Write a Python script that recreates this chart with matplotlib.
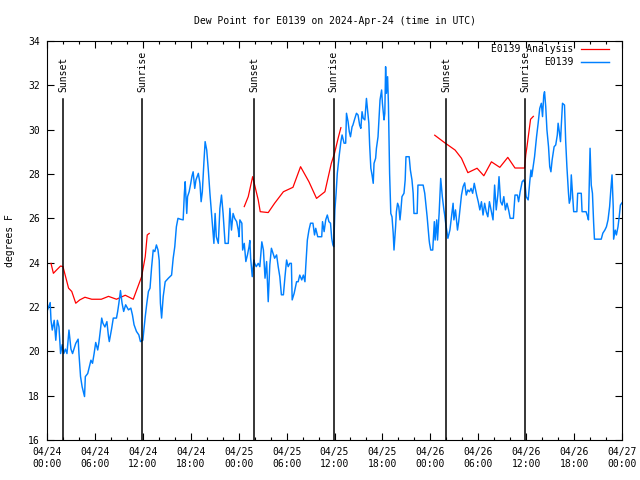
import numpy as np
import matplotlib
matplotlib.use("Agg")
import matplotlib.pyplot as plt

plt.rcParams["font.family"] = ["DejaVu Sans Mono"]

# hours since 2024-04-24 00:00 UTC
obs_t = [0.0, 0.4, 0.5, 0.66, 0.9, 1.1, 1.3, 1.5, 1.7, 1.9, 2.1, 2.3, 2.5, 2.75, 3.0, 3.2,
         3.6, 3.9, 4.0, 4.2, 4.4, 4.7, 4.8, 5.1, 5.3, 5.5, 5.7, 5.9, 6.1, 6.35, 6.5, 6.7,
         6.85, 7.0, 7.25, 7.5, 7.7, 7.8, 8.1, 8.3, 8.7, 8.85, 9.0, 9.2, 9.4, 9.6, 9.85,
         10.2, 10.5, 10.7, 10.9, 11.2, 11.5, 11.7, 12.0,
         12.3, 12.5, 12.7, 12.9, 13.1, 13.3, 13.5, 13.7, 13.9, 14.05, 14.2, 14.35, 14.55,
         14.8, 15.2, 15.6, 15.8, 16.0, 16.2, 16.4, 16.7, 17.05, 17.2, 17.3, 17.5, 17.6,
         17.8, 18.0, 18.15, 18.3, 18.5, 18.65, 18.95, 19.15, 19.3, 19.45, 19.65, 19.8,
         20.0, 20.2, 20.4, 20.6, 20.8, 20.9, 21.05, 21.2, 21.45, 21.65, 21.85, 22.05,
         22.3, 22.7, 22.9, 23.1, 23.3, 23.5, 23.75, 23.95, 24.05,
         24.15, 24.4, 24.5, 24.7, 24.9, 25.1, 25.3, 25.4, 25.5, 25.7, 25.9, 26.0, 26.2,
         26.45, 26.65, 26.9, 27.1, 27.3, 27.5, 27.7, 27.9, 28.1, 28.3, 28.5, 28.75, 28.95,
         29.15, 29.35, 29.6, 29.8, 30.0, 30.2, 30.4, 30.6, 30.7, 30.95, 31.25, 31.45,
         31.65, 31.9, 32.1, 32.3, 32.4, 32.6, 32.8, 33.0, 33.3, 33.5, 33.65, 33.9, 34.1,
         34.4, 34.5, 34.7, 34.9, 35.1, 35.3, 35.5, 35.65, 35.8,
         35.9, 36.05, 36.2, 36.35, 36.6, 36.8, 36.95, 37.2, 37.4, 37.5, 37.7, 37.85, 38.0,
         38.2, 38.3, 38.55, 38.75, 38.95, 39.15, 39.3, 39.45, 39.6, 39.8, 40.0, 40.1,
         40.3, 40.4, 40.55, 40.7, 40.85, 40.95, 41.15, 41.25, 41.45, 41.7, 41.9, 42.0,
         42.2, 42.3, 42.4, 42.5, 42.65, 42.75, 42.9, 43.05, 43.2, 43.35, 43.45, 43.65,
         43.75, 43.9, 44.05, 44.2, 44.3, 44.45, 44.7, 44.85, 44.95, 45.35, 45.5, 45.7,
         45.85, 45.95, 46.35, 46.45, 47.1, 47.3, 47.6, 47.85,
         47.9, 48.05, 48.3, 48.5, 48.6, 48.8, 48.9, 49.1, 49.3, 49.5, 49.7, 49.8, 49.95,
         50.05, 50.2, 50.45, 50.65, 50.85, 50.95, 51.15, 51.4, 51.55, 51.7, 51.9, 52.1,
         52.3, 52.5, 52.7, 52.9, 53.1, 53.3, 53.5, 53.8, 54.0, 54.2, 54.4, 54.6, 54.8,
         55.0, 55.2, 55.4, 55.65, 55.85, 56.05, 56.25, 56.45, 56.6, 56.8, 57.0, 57.2,
         57.4, 57.6, 57.8, 58.0, 58.4, 58.6, 58.9, 59.05, 59.25,
         59.5, 59.7, 59.85, 60.0, 60.25, 60.45, 60.6, 60.7, 60.85, 61.05, 61.3, 61.5,
         61.7, 61.9, 62.05, 62.2, 62.3, 62.45, 62.6, 62.8, 62.95, 63.1, 63.25, 63.5,
         63.7, 63.9, 64.0, 64.15, 64.3, 64.4, 64.55, 64.8, 64.95, 65.1, 65.3, 65.4,
         65.55, 65.65, 65.85, 65.95, 66.35, 66.45, 66.9, 67.0, 67.5, 67.7, 67.8, 68.0,
         68.15, 68.3, 68.45, 68.55, 69.4, 69.6, 69.85, 70.05, 70.25, 70.45, 70.6, 70.75,
         70.9, 70.95, 71.15, 71.3, 71.5, 71.65, 71.8, 72.0]
obs_v = [21.8, 22.2, 21.4, 20.96, 21.4, 20.5, 21.4, 21.1, 19.9, 20.3, 19.9, 20.1, 19.9, 20.96, 20.1, 19.9,
         20.36, 20.55, 19.9, 18.86, 18.4, 17.96, 18.86, 19.0, 19.3, 19.6, 19.46, 19.9, 20.4, 20.06, 20.4, 21.0,
         21.5, 21.27, 21.1, 21.34, 20.67, 20.44, 21.04, 21.5, 21.5, 21.8, 22.17, 22.74, 22.17, 21.8, 22.1,
         21.87, 21.95, 21.64, 21.2, 20.9, 20.74, 20.44, 20.5,
         21.56, 22.17, 22.7, 22.85, 23.8, 24.57, 24.5, 24.8, 24.57, 24.1, 22.17, 21.5, 22.47,
         23.14, 23.3, 23.44, 24.2, 24.72, 25.62, 26.0, 25.96, 25.93, 27.13, 27.65, 26.22, 26.98,
         27.2, 27.58, 27.9, 28.1, 27.35, 27.73, 28.03, 27.58, 26.75, 27.2, 28.55, 29.46,
         29.08, 28.18, 27.13, 26.22, 25.33, 24.87, 26.22, 25.17, 24.87, 26.45, 27.05, 26.22,
         24.87, 24.87, 26.45, 25.47, 26.22, 26.0, 25.85, 25.47, 25.17,
         25.93, 25.78, 24.57, 24.87, 24.05, 24.35, 24.72, 25.0, 24.2, 23.37, 24.12, 23.97, 23.82,
         23.97, 23.82, 24.94, 24.57, 23.3, 24.05, 22.24, 23.9, 24.65, 24.42, 24.2, 24.35, 23.82,
         23.37, 22.55, 22.55, 23.37, 24.12, 23.82, 23.97, 23.97, 22.32, 22.62, 23.14, 23.14,
         23.44, 23.22, 23.44, 23.14, 23.82, 25.02, 25.47, 25.78, 25.78, 25.25, 25.55, 25.17, 25.17,
         25.17, 25.85, 25.4, 25.93, 26.15, 25.85, 25.78, 25.1, 24.8,
         24.72, 26.38, 27.13, 28.03, 28.86, 29.46, 29.76, 29.39, 29.39, 30.74, 30.36, 29.91, 29.68,
         30.13, 30.2, 30.51, 30.74, 30.66, 30.2, 30.06, 30.81, 30.51, 30.44, 31.41, 31.04,
         30.29, 29.31, 28.26, 27.96, 27.58, 28.48, 28.71, 29.16, 29.68, 31.34, 31.79, 31.19,
         30.44, 30.74, 32.84, 31.64, 32.39, 31.19, 28.03, 26.22, 26.07, 25.33, 24.57, 25.62,
         26.3, 26.68, 26.53, 25.93, 26.3, 26.98, 27.13, 27.73, 28.78, 28.78, 28.18, 27.73,
         27.13, 26.22, 26.22, 27.5, 27.5, 27.13, 26.07, 25.02,
         24.87, 24.57, 24.57, 25.85, 25.02, 25.93, 25.02, 26.22, 27.8, 26.98, 26.38, 26.15, 25.7,
         25.47, 25.1, 25.47, 26.07, 26.68, 25.93, 26.38, 25.47, 25.85, 26.38, 27.05, 27.43,
         27.6, 27.05, 27.28, 27.2, 27.35, 27.13, 27.58, 27.05, 26.75, 26.38, 26.75, 26.15, 26.68,
         26.3, 26.07, 26.75, 26.3, 25.93, 27.5, 26.38, 27.05, 27.88, 26.75, 26.6, 26.98,
         26.38, 26.68, 26.38, 26.0, 26.0, 27.05, 27.05, 26.75, 27.2,
         27.65, 27.73, 27.58, 26.98, 26.83, 27.65, 28.18, 27.88, 28.26, 28.78, 29.68, 30.29,
         30.96, 31.19, 30.59, 31.56, 31.71, 31.04, 29.99, 29.23, 28.33, 28.1, 28.63, 29.23,
         29.31, 29.76, 30.29, 29.91, 29.46, 30.2, 31.19, 31.11, 29.46, 28.33, 27.13, 26.68,
         26.9, 27.96, 26.9, 26.3, 26.3, 27.13, 27.13, 26.3, 26.3, 26.07, 25.93, 29.16,
         27.5, 27.13, 25.78, 25.06, 25.06, 25.33, 25.47, 25.62, 25.93, 26.53, 27.28, 27.96,
         26.53, 25.06, 25.47, 25.25, 25.62, 26.07, 26.6, 26.7]

# analysis, nan breaks the line between days
ana_t = [0.5, 0.8, 1.2, 1.7, 2.0, 2.7, 3.1, 3.6, 4.1, 4.75, 5.6, 6.8, 7.7, 8.7, 9.8, 10.8,
         11.85, 12.3, 12.55, 12.8, np.nan,
         24.7, 25.2, 25.75, 26.45, 26.7, 27.7, 28.5, 29.6, 30.8, 31.75, 32.8, 33.75, 34.8,
         35.6, 36.0, 36.5, 36.8, np.nan,
         48.55, 49.8, 51.1, 51.9, 52.7, 53.85, 54.7, 55.65, 56.7, 57.7, 58.6, 59.8, 59.95,
         60.1, 60.55, 60.9]
ana_v = [23.97, 23.52, 23.67, 23.85, 23.82, 22.85, 22.7, 22.17, 22.32, 22.44, 22.35, 22.35,
         22.48, 22.35, 22.53, 22.35, 23.37, 24.27, 25.25, 25.32, np.nan,
         26.53, 26.98, 27.88, 26.83, 26.3, 26.26, 26.68, 27.2, 27.4, 28.33, 27.65, 26.9, 27.2,
         28.48, 28.93, 29.68, 30.09, np.nan,
         29.75, 29.41, 29.08, 28.71, 28.06, 28.26, 27.92, 28.55, 28.3, 28.75, 28.27, 28.27,
         28.86, 29.23, 30.47, 30.6]

sun_t = [2.0, 11.9, 25.95, 35.9, 49.95, 59.9]
sun_lbl = ["Sunset", "Sunrise", "Sunset", "Sunrise", "Sunset", "Sunrise"]

xtick_pos = [0, 6, 12, 18, 24, 30, 36, 42, 48, 54, 60, 66, 72]
xtick_lbl = ["04/24\n00:00", "04/24\n06:00", "04/24\n12:00", "04/24\n18:00",
             "04/25\n00:00", "04/25\n06:00", "04/25\n12:00", "04/25\n18:00",
             "04/26\n00:00", "04/26\n06:00", "04/26\n12:00", "04/26\n18:00",
             "04/27\n00:00"]

fig = plt.figure(figsize=(6.4, 4.8), dpi=100)
ax = fig.add_axes([47 / 640, 40 / 480, 575 / 640, 399 / 480])

ax.plot(ana_t, ana_v, color="#ff0000", lw=0.9, label="E0139 Analysis")
ax.plot(obs_t, obs_v, color="#0080ff", lw=1.05, label="E0139")

for t, lbl in zip(sun_t, sun_lbl):
    ax.plot([t, t], [16, 31.4], color="black", lw=1.1)
    ax.text(t, 31.7, lbl, rotation=90, ha="center", va="bottom", fontsize=7)

ax.set_xlim(0, 72)
ax.set_ylim(16, 34)
ax.set_xticks(xtick_pos)
ax.set_xticklabels(xtick_lbl)
ax.set_xticks(np.arange(0, 73, 2), minor=True)
ax.set_yticks(np.arange(16, 35, 2))
ax.tick_params(which="both", direction="in", top=True, right=True, labelsize=7, width=0.8)
ax.tick_params(which="major", length=5, pad=5)
ax.tick_params(which="minor", length=2.5)
for s in ax.spines.values():
    s.set_linewidth(0.8)

ax.set_title("Dew Point for E0139 on 2024-Apr-24 (time in UTC)", fontsize=7, pad=12)
ax.set_ylabel("degrees F", fontsize=7)
ax.yaxis.set_label_coords(-0.055, 0.5)

ax.legend(loc="upper right", bbox_to_anchor=(0.978, 0.992), frameon=False,
          markerfirst=False, fontsize=7, handlelength=2.9, handletextpad=0.8,
          borderpad=0, borderaxespad=0, labelspacing=0.3)

fig.savefig("out.png", dpi=100)
